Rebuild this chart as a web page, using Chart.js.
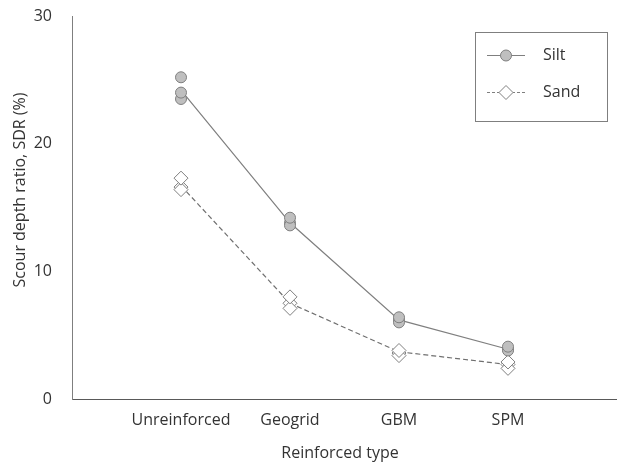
<!DOCTYPE html>
<html>
<head>
<meta charset="utf-8">
<script src="https://cdn.jsdelivr.net/npm/chart.js@4"></script>
<style>
  html, body { margin: 0; padding: 0; background: #fff; }
  #wrap { width: 617px; height: 466px; }
</style>
</head>
<body>
<div id="wrap"><canvas id="myChart"></canvas></div>
<script>
var categories = ["Unreinforced", "Geogrid", "GBM", "SPM"];
var yTicks = [0, 10, 20, 30];

// repeated test results
var siltRun1 = [25.2, 14.2, 6.4, 4.1];
var siltRun2 = [24.0, 13.6, 6.0, 3.8];
var siltRun3 = [23.5, 13.8, 6.2, 3.9];
var sandRun1 = [17.3, 8.0, 3.8, 2.9];
var sandRun2 = [16.4, 7.1, 3.4, 2.4];
var sandRun3 = [16.6, 7.5, 3.6, 2.7];

// trend lines
var siltLine = [24.2, 13.8, 6.2, 3.9];
var sandLine = [16.7, 7.5, 3.7, 2.7];

var FONT = "'Open Sans', sans-serif";
var TEXT = "#333333";
var GREY = "#7f7f7f";

function toPoints(values) {
  return values.map(function (v, i) { return { x: i + 1, y: v }; });
}
function runs() {
  var out = [];
  for (var i = 0; i < arguments.length; i++) out = out.concat(toPoints(arguments[i]));
  return out;
}

var extras = {
  id: "extras",
  afterDraw: function (chart) {
    var c = chart.ctx;
    c.save();
    // y title
    c.fillStyle = TEXT;
    c.font = "16px " + FONT;
    c.textAlign = "center";
    c.textBaseline = "middle";
    c.translate(20, 190);
    c.rotate(-Math.PI / 2);
    c.fillText("Scour depth ratio, SDR (%)", 0, 0);
    c.restore();

    c.save();
    c.fillStyle = TEXT;
    c.font = "16px " + FONT;
    c.textAlign = "center";
    c.textBaseline = "middle";
    c.fillText("Reinforced type", 340, 453);

    // legend box
    c.strokeStyle = GREY;
    c.lineWidth = 1;
    c.strokeRect(475.5, 32.5, 132, 89);

    // silt
    c.beginPath();
    c.moveTo(487, 55.5);
    c.lineTo(525, 55.5);
    c.stroke();
    c.beginPath();
    c.arc(506, 55.5, 5.5, 0, Math.PI * 2);
    c.fillStyle = "#bfbfbf";
    c.fill();
    c.stroke();

    // sand
    c.setLineDash([3, 2]);
    c.beginPath();
    c.moveTo(487, 92.5);
    c.lineTo(525, 92.5);
    c.stroke();
    c.setLineDash([]);
    c.beginPath();
    c.moveTo(506, 85.5);
    c.lineTo(513, 92.5);
    c.lineTo(506, 99.5);
    c.lineTo(499, 92.5);
    c.closePath();
    c.fillStyle = "#fff";
    c.fill();
    c.stroke();

    c.fillStyle = TEXT;
    c.textAlign = "left";
    c.fillText("Silt", 543, 55);
    c.fillText("Sand", 543, 92);
    c.restore();
  }
};

var ctx = document.getElementById("myChart").getContext("2d");

var myChart = new Chart(ctx, {
  type: "scatter",
  data: {
    datasets: [
      {
        label: "Silt line",
        data: toPoints(siltLine),
        showLine: true,
        borderColor: GREY,
        borderWidth: 1.2,
        pointRadius: 0,
        order: 2,
      },
      {
        label: "Sand line",
        data: toPoints(sandLine),
        showLine: true,
        borderColor: "#6f6f6f",
        borderWidth: 1.2,
        borderDash: [5, 3],
        pointRadius: 0,
        order: 2,
      },
      {
        label: "Silt",
        data: runs(siltRun3, siltRun2, siltRun1),
        pointStyle: "circle",
        pointRadius: 5.5,
        backgroundColor: "#bfbfbf",
        borderColor: GREY,
        borderWidth: 1,
        order: 1,
      },
      {
        label: "Sand",
        data: runs(sandRun3, sandRun2, sandRun1),
        pointStyle: "rectRot",
        pointRadius: 7,
        backgroundColor: "#ffffff",
        borderColor: GREY,
        borderWidth: 1,
        order: 1,
      },
    ],
  },
  options: {
    responsive: true,
    maintainAspectRatio: false,
    animation: false,
    events: [],
    layout: { autoPadding: false, padding: { top: 16, right: 0, left: 0, bottom: 0 } },
    plugins: {
      legend: { display: false },
      tooltip: { enabled: false },
    },
    scales: {
      x: {
        type: "linear",
        min: 0,
        max: 5,
        afterBuildTicks: function (scale) {
          scale.ticks = categories.map(function (c, i) { return { value: i + 1 }; });
        },
        afterFit: function (scale) {
          scale.height = 67;
          scale.paddingLeft = 0;
          scale.paddingRight = 0;
        },
        grid: { display: false },
        border: { display: true, color: "#595959", width: 1 },
        ticks: {
          color: TEXT,
          font: { family: FONT, size: 16 },
          padding: 4,
          maxRotation: 0,
          autoSkip: false,
          callback: function (v) { return categories[v - 1]; },
        },
      },
      y: {
        min: 0,
        max: 30,
        afterBuildTicks: function (scale) {
          scale.ticks = yTicks.map(function (v) { return { value: v }; });
        },
        afterFit: function (scale) {
          scale.width = 72;
          scale.paddingTop = 0;
          scale.paddingBottom = 0;
        },
        grid: { display: false },
        border: { display: true, color: GREY, width: 1 },
        ticks: {
          color: TEXT,
          font: { family: FONT, size: 16 },
          padding: 12,
        },
      },
    },
  },
  plugins: [extras],
});
</script>
</body>
</html>
